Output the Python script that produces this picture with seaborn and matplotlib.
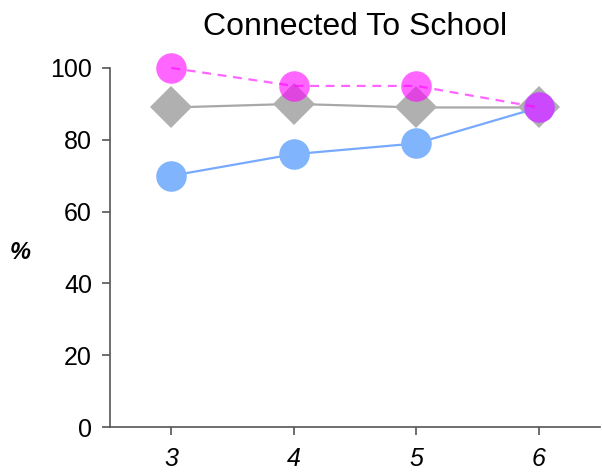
import matplotlib
matplotlib.use("Agg")
import matplotlib.pyplot as plt
import seaborn as sns
import pandas as pd

grades = [3, 4, 5, 6]
series_a = [100, 95, 95, 89]   # pink, dashed
series_b = [89, 90, 89, 89]    # gray, diamonds
series_c = [70, 76, 79, 89]    # blue

sns.set_style("ticks")
plt.rcParams['font.family'] = ['Liberation Sans', 'DejaVu Sans']
plt.rcParams['text.color'] = 'black'

fig = plt.figure(figsize=(6.02, 4.72), dpi=100)
ax = fig.add_axes([0.183, 0.095, 0.814, 0.761])

df = pd.DataFrame({'grade': grades, 'a': series_a, 'b': series_b, 'c': series_c})

sns.lineplot(data=df, x='grade', y='b', ax=ax, color='#a8a8a8', lw=1.6,
             marker='D', markersize=21, markerfacecolor='#b0b0b0',
             markeredgewidth=0)
sns.lineplot(data=df, x='grade', y='c', ax=ax, color='#77aaff', lw=1.6,
             marker='o', markersize=22, markerfacecolor='#80b4fc',
             markeredgewidth=0)
sns.lineplot(data=df, x='grade', y='a', ax=ax, color='#ff00ff', lw=1.6,
             linestyle=(0, (4, 3)), marker='o', markersize=22,
             markeredgewidth=0, alpha=0.6)

ax.set_xlim(2.5, 6.5)
ax.set_ylim(0, 100)
ax.set_xticks(grades)
ax.set_yticks([0, 20, 40, 60, 80, 100])
ax.set_xlabel('')
ax.set_ylabel('%', rotation=0, fontsize=17, fontstyle='italic', fontweight='bold',
              color='black', va='center', ha='center')
ax.yaxis.set_label_coords(-0.184, 0.485)
ax.set_title('Connected To School', fontsize=23, pad=24, color='black')

for lbl in ax.get_xticklabels():
    lbl.set_fontstyle('italic')
ax.tick_params(axis='both', labelsize=18, length=6, width=1.2, color='#555555',
               labelcolor='black')
ax.tick_params(axis='x', pad=8)
ax.tick_params(axis='y', pad=7)
for s in ['left', 'bottom']:
    ax.spines[s].set_color('#555555')
    ax.spines[s].set_linewidth(1.2)
sns.despine(ax=ax)
for line in ax.lines:
    line.set_clip_on(False)

fig.savefig('out.png', dpi=100)
